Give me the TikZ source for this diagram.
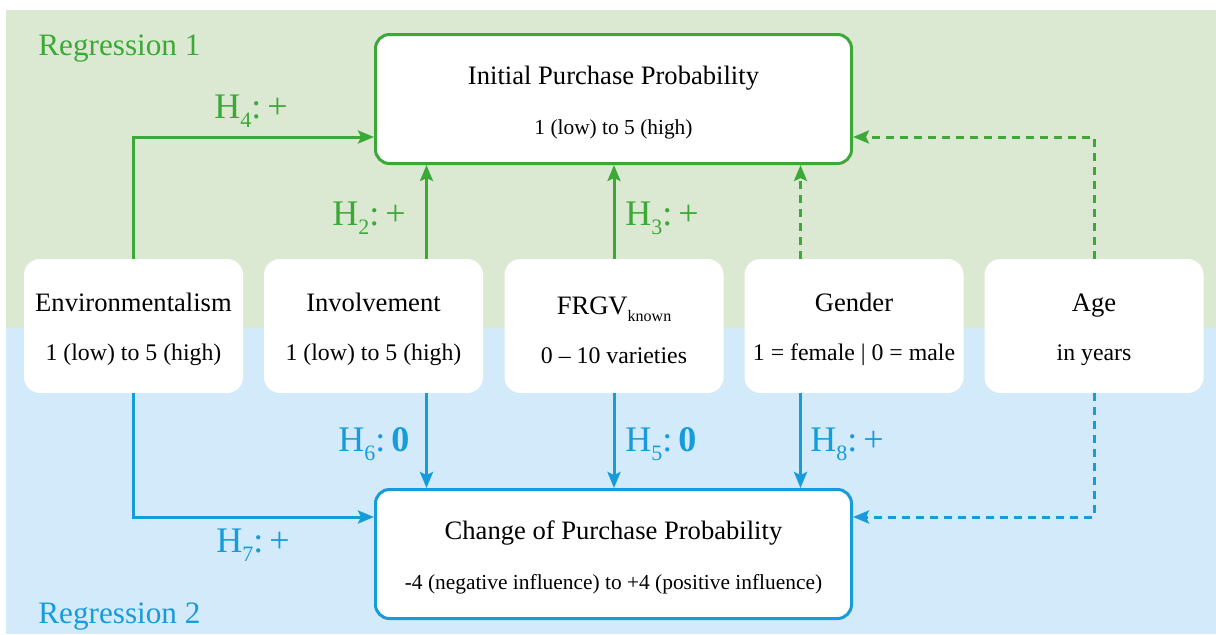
\documentclass[tikz,border=0pt]{standalone}
\usepackage{fontspec}
\setmainfont{Liberation Serif}
\usetikzlibrary{arrows.meta,positioning}

\definecolor{rgreen}{RGB}{60,168,56}
\definecolor{rblue}{RGB}{22,156,218}
\definecolor{bggreen}{RGB}{220,233,210}
\definecolor{bgblue}{RGB}{210,234,249}

\newcommand{\hyp}[2]{H\raisebox{-0.55ex}{\fontsize{11}{11}\selectfont #1}:\,#2}
\newcommand{\vtitle}[1]{{\fontsize{13.3}{16}\selectfont\rule{0pt}{13pt}#1}}

\tikzset{
  varbox/.style={fill=white, rounded corners=8pt, minimum width=109.5pt,
    minimum height=67pt, inner sep=0pt, align=center,
    font=\fontsize{11.9}{14}\selectfont},
  dvbox/.style={fill=white, line width=1.5pt, rounded corners=7pt,
    minimum width=238pt, minimum height=64.5pt, inner sep=0pt, align=center,
    font=\fontsize{10.7}{13}\selectfont},
  link/.style={line width=1.5pt, -{Stealth[length=8pt,width=6.5pt,inset=1.5pt]}},
  optlink/.style={link, dash pattern=on 4pt off 3pt},
  hyplabel/.style={inner sep=0pt, anchor=base west, font=\fontsize{18}{20}\selectfont},
  regtext/.style={inner sep=0pt, anchor=base west, font=\fontsize{15.6}{18}\selectfont}
}

\begin{document}
\begin{tikzpicture}[x=0.5pt,y=-0.5pt]
  \useasboundingbox (0,0) rectangle (1216,634);
  % the two regressions
  \fill[bggreen] (6,10) rectangle (1216,328);
  \fill[bgblue] (6,328) rectangle (1216,634);
  \node[regtext, text=rgreen] (reg1) at (38,55) {Regression 1};
  \node[regtext, text=rblue] (reg2) at (38,623) {Regression 2};

  % dependent variables
  \node[dvbox, draw=rgreen] (init) at (613.5,99)
    {\vtitle{Initial Purchase Probability}\\[12pt]1 (low) to 5 (high)};
  \node[dvbox, draw=rblue] (change) at (613.5,554)
    {\vtitle{Change of Purchase Probability}\\[12pt]-4 (negative influence) to +4 (positive influence)};

  % predictors
  \node[varbox] (env) at (133.5,326) {\vtitle{Environmentalism}\\[10.5pt]1 (low) to 5 (high)};
  \node[varbox] (inv) at (373.5,326) {\vtitle{Involvement}\\[10.5pt]1 (low) to 5 (high)};
  \node[varbox] (frgv) at (614,326)
    {\vtitle{FRGV\raisebox{-0.6ex}{\fontsize{8}{8}\selectfont known}}\\[10.5pt]0 -- 10 varieties};
  \node[varbox] (gender) at (854,326) {\vtitle{Gender}\\[10.5pt]1 = female | 0 = male};
  \node[varbox] (age) at (1094,326) {\vtitle{Age}\\[10.5pt]in years};

  \coordinate (up2) at ([xshift=26.25pt]init.south west);
  \coordinate (up8) at ([xshift=-26.25pt]init.south east);
  \coordinate (dn6) at ([xshift=26.25pt]change.north west);
  \coordinate (dn8) at ([xshift=-26.25pt]change.north east);

  % regression 1
  \draw[link, rgreen] (env.north) |- ([yshift=-19pt]init.west);
  \draw[link, rgreen] (inv.north -| up2) -- (up2);
  \draw[link, rgreen] (frgv.north) -- (frgv.north |- init.south);
  \draw[optlink, rgreen] (gender.north -| up8) -- (up8);
  \draw[optlink, rgreen] (age.north) |- ([yshift=-19pt]init.east);
  \node[hyplabel, text=rgreen] (h4) at (214,118) {\hyp{4}{+}};
  \node[hyplabel, text=rgreen] (h2) at (332,225) {\hyp{2}{+}};
  \node[hyplabel, text=rgreen] (h3) at (625,225) {\hyp{3}{+}};

  % regression 2
  \draw[link, rblue] (env.south) |- ([yshift=18.5pt]change.west);
  \draw[link, rblue] (inv.south -| dn6) -- (dn6);
  \draw[link, rblue] (frgv.south) -- (frgv.south |- change.north);
  \draw[link, rblue] (gender.south -| dn8) -- (dn8);
  \draw[optlink, rblue] (age.south) |- ([yshift=18.5pt]change.east);
  \node[hyplabel, text=rblue] (h6) at (338,451) {\hyp{6}{\textbf{0}}};
  \node[hyplabel, text=rblue] (h5) at (625,451) {\hyp{5}{\textbf{0}}};
  \node[hyplabel, text=rblue] (h8) at (810,451) {\hyp{8}{+}};
  \node[hyplabel, text=rblue] (h7) at (216,552) {\hyp{7}{+}};
\end{tikzpicture}
\end{document}
